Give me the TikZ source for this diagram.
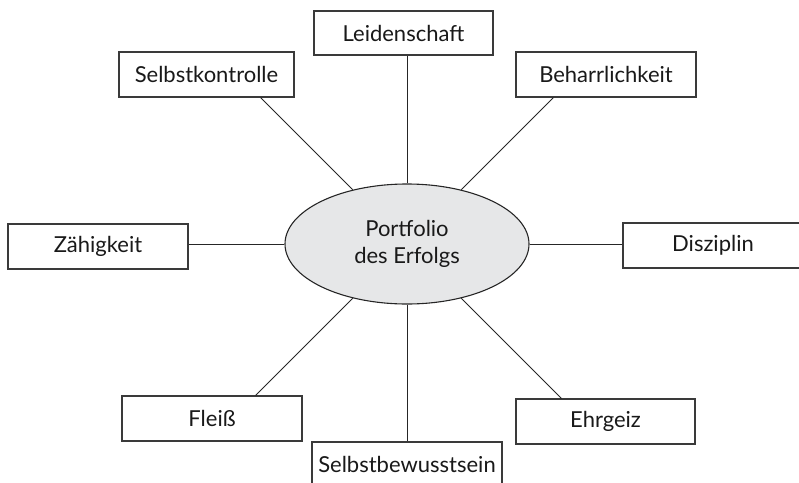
\documentclass[tikz,border=0pt]{standalone}
\usepackage{fontspec}
\setmainfont{Lato}
\usetikzlibrary{shapes.geometric}
\definecolor{boxline}{HTML}{3A3A3A}
\definecolor{ellfill}{HTML}{E6E7E8}
\tikzset{
  every node/.style={font=\fontsize{22}{27}\selectfont, text=black!90},
  termbox/.style={draw=boxline, line width=1.1pt, fill=white, minimum width=180pt, minimum height=45pt, inner sep=0pt},
  center/.style={ellipse, draw=black!85, line width=1.1pt, fill=ellfill, minimum width=244pt, minimum height=120pt, inner sep=0pt, align=center},
  conn/.style={draw=black!85, line width=0.9pt}
}
\begin{document}
\begin{tikzpicture}[x=1pt,y=-1pt]
\useasboundingbox (0,0) rectangle (799,482);
\begin{scope}
\clip (0,0) rectangle (799,482);
\node[center] (e) at (407,244) {Portfolio\\des Erfolgs};
\node[termbox, minimum width=179pt, minimum height=44pt] (ls) at (403.5,33) {Leidenschaft};
\node[termbox, minimum width=175pt] (sk) at (206.5,74.5) {Selbstkontrolle};
\node[termbox] (bh) at (606,74.5) {Beharrlichkeit};
\node[termbox] (zh) at (98,246.5) {Zähigkeit};
\node[termbox] (dz) at (713,245.5) {Disziplin};
\node[termbox] (fl) at (212,418.5) {Fleiß};
\node[termbox, minimum width=179pt] (eg) at (605.5,421.5) {Ehrgeiz};
\node[termbox, minimum width=190pt] (sb) at (407,464.5) {Selbstbewusstsein};
\draw[conn] (e.north) -- (e.north |- ls.south);
\draw[conn] (e.south) -- (e.south |- sb.north);
\draw[conn] (e.west) -- (e.west -| zh.east);
\draw[conn] (e.east) -- (e.east -| dz.west);
\draw[conn] (e.135) -- (intersection of sk.south west--sk.south east and e.center--e.135);
\draw[conn] (e.45) -- (intersection of bh.south west--bh.south east and e.center--e.45);
\draw[conn] (e.225) -- (intersection of fl.north west--fl.north east and e.center--e.225);
\draw[conn] (e.315) -- (intersection of eg.north west--eg.north east and e.center--e.315);
\end{scope}
\end{tikzpicture}
\end{document}
